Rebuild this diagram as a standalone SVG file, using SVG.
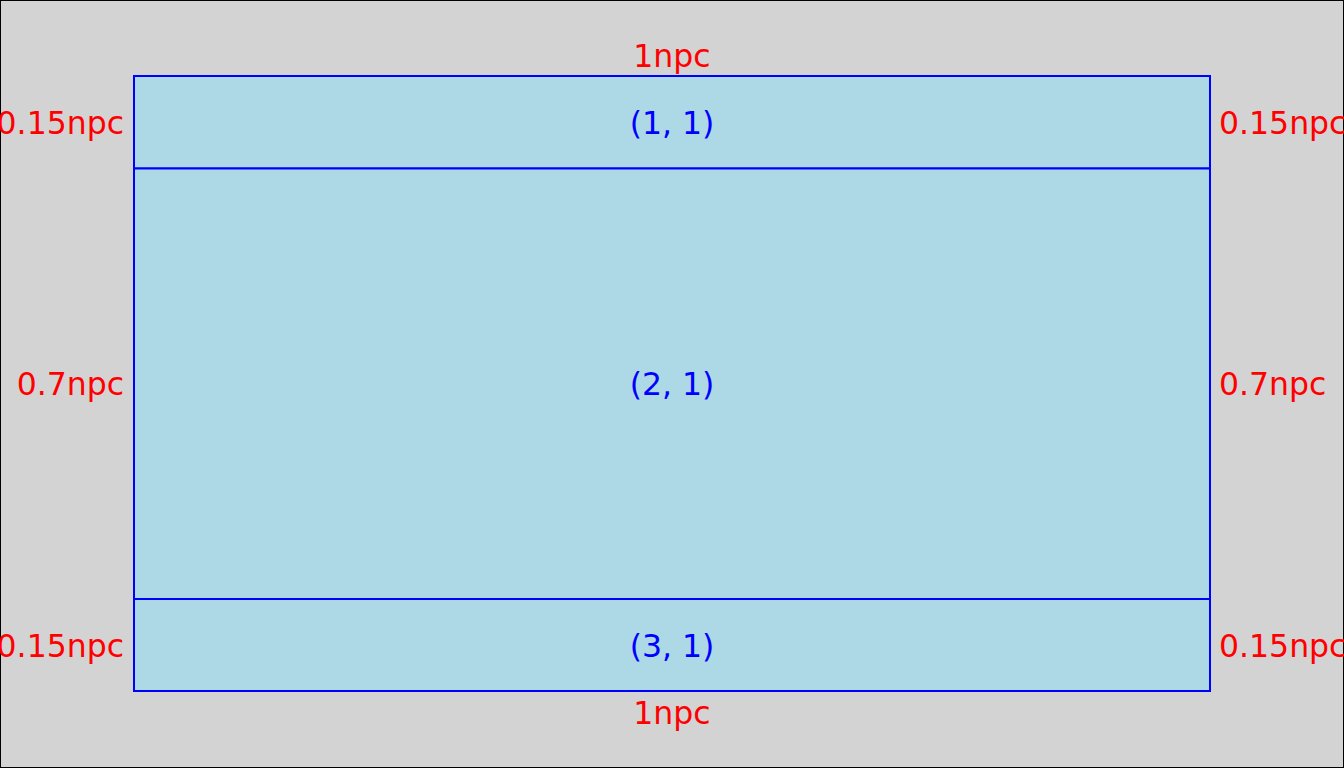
<svg xmlns="http://www.w3.org/2000/svg" width="1344" height="768" viewBox="0 0 1344 768">
<style>
.cell{fill:#add8e6;stroke:#0000ff;stroke-width:2}
.lab{font-family:"DejaVu Sans",sans-serif;font-size:31.5px;fill:#ff0000}
.idx{font-family:"DejaVu Sans",sans-serif;font-size:31.5px;fill:#0000ff;text-anchor:middle}
</style>
<rect x="0.5" y="0.5" width="1343" height="767" fill="#d3d3d3" stroke="#000" stroke-width="1"/>
<g id="cell-1-1">
<rect class="cell" x="134" y="76" width="1076" height="92.5"/>
<text class="idx" x="672" y="134">(1, 1)</text>
</g>
<g id="cell-2-1">
<rect class="cell" x="134" y="168.5" width="1076" height="430.5"/>
<text class="idx" x="672" y="395">(2, 1)</text>
</g>
<g id="cell-3-1">
<rect class="cell" x="134" y="599" width="1076" height="92"/>
<text class="idx" x="672" y="657">(3, 1)</text>
</g>
<g id="labels">
<text class="lab" x="672" y="67" text-anchor="middle">1npc</text>
<text class="lab" x="672" y="724" text-anchor="middle">1npc</text>
<text class="lab" x="124" y="134" text-anchor="end">0.15npc</text>
<text class="lab" x="124" y="395" text-anchor="end">0.7npc</text>
<text class="lab" x="124" y="657" text-anchor="end">0.15npc</text>
<text class="lab" x="1219" y="134">0.15npc</text>
<text class="lab" x="1219" y="395">0.7npc</text>
<text class="lab" x="1219" y="657">0.15npc</text>
</g>
</svg>
